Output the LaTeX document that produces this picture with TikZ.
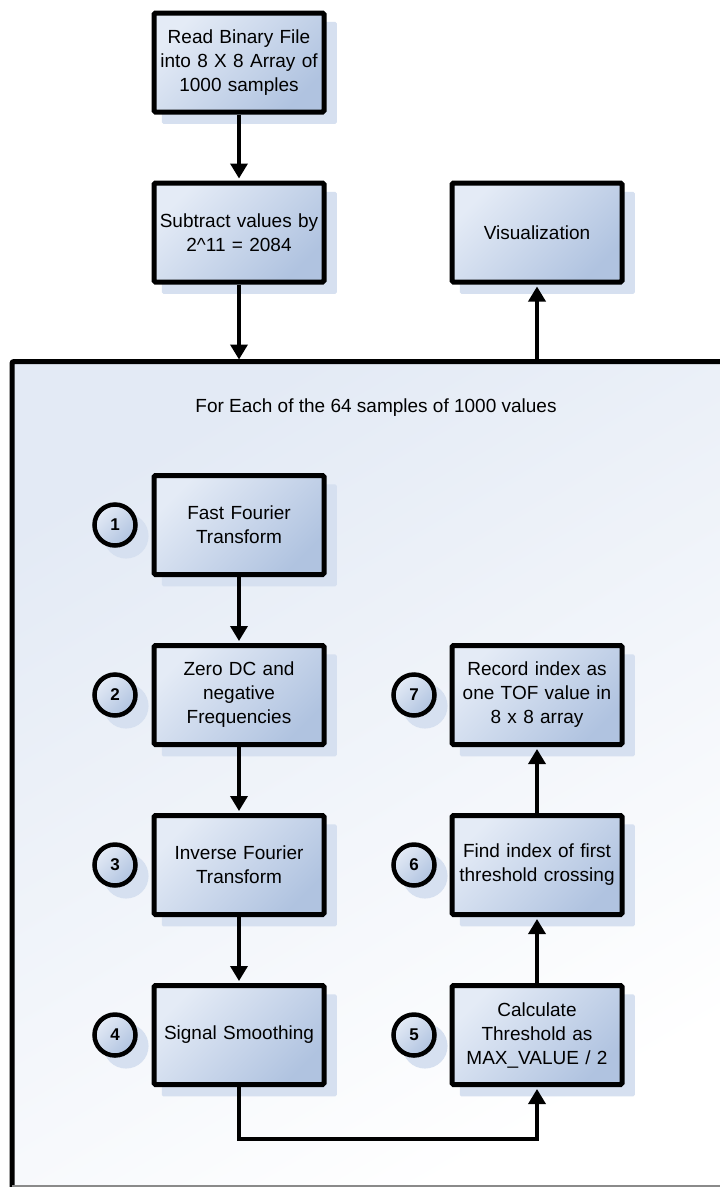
\documentclass[tikz,border=0pt]{standalone}
\usepackage{fontspec}
\setmainfont{Liberation Sans}
\usetikzlibrary{arrows.meta,shadows}

\definecolor{boxlight}{HTML}{E4EBF6}
\definecolor{boxdark}{HTML}{B0C3E0}
\definecolor{shadowblue}{HTML}{D6E0F0}
\definecolor{panelblue}{HTML}{E3EAF5}
\definecolor{edgegray}{HTML}{8A8A8A}

\begin{document}
\begin{tikzpicture}[x=1pt,y=-1pt,
  stepbox/.style={draw=black, line width=5pt, rounded corners=1.5pt,
    minimum width=170pt, minimum height=99pt, text width=168pt,
    align=center, inner sep=0pt,
    top color=boxlight, bottom color=boxdark, shading angle=45,
    font=\fontsize{19}{24}\selectfont,
    drop shadow={shadow xshift=10pt, shadow yshift=-10pt, shadow scale=1.03,
      fill=shadowblue, opacity=1}},
  badge/.style={circle, draw=black, line width=4.5pt, minimum size=41pt,
    inner sep=0pt, top color=boxlight, bottom color=boxdark, shading angle=45,
    font=\bfseries\fontsize{17}{17}\selectfont,
    drop shadow={shadow xshift=10pt, shadow yshift=-10pt, shadow scale=1.1,
      fill=shadowblue, opacity=1}},
  flow/.style={line width=3.5pt, -{Triangle[length=15pt,width=17pt]},
    shorten >=2pt},
]
\clip (0,0) rectangle (720,1187);
\fill[white] (0,0) rectangle (720,1187);

% loop panel
\fill[top color=panelblue, bottom color=white, shading angle=30]
  (12,361.5) rectangle (730,1186);
\draw[line width=5pt, rounded corners=2pt] (12,1195) -- (12,361.5) -- (730,361.5);
\draw[edgegray, line width=1.5pt] (12,1186) -- (720,1186);
\coordinate (panelin) at (239,361.5);
\coordinate (panelout) at (537,361.5);
\node[anchor=base, font=\fontsize{19}{24}\selectfont] (looptitle) at (376,412)
  {For Each of the 64 samples of 1000 values};

% preprocessing steps
\node[stepbox] (read) at (239,62.5) {Read Binary File\\into 8 X 8 Array of\\1000 samples};
\node[stepbox] (subtract) at (239,232.5) {Subtract values by\\2\^{}11 = 2084};
\node[stepbox] (vis) at (537,232.5) {Visualization};

% per-sample steps
\node[stepbox] (fft) at (239,525) {Fast Fourier\\Transform};
\node[stepbox] (zerodc) at (239,695) {Zero DC and\\negative\\Frequencies};
\node[stepbox] (ifft) at (239,865) {Inverse Fourier\\Transform};
\node[stepbox] (smooth) at (239,1035) {Signal Smoothing};
\node[stepbox] (thresh) at (537,1035) {Calculate\\Threshold as\\MAX\_VALUE / 2};
\node[stepbox] (cross) at (537,865) {Find index of first\\threshold crossing};
\node[stepbox] (record) at (537,695) {Record index as\\one TOF value in\\8 x 8 array};

% step numbers
\node[badge] (n1) at (115,525) {1};
\node[badge] (n2) at (115,695) {2};
\node[badge] (n3) at (115,865) {3};
\node[badge] (n4) at (115,1035) {4};
\node[badge] (n5) at (414,1035) {5};
\node[badge] (n6) at (414,865) {6};
\node[badge] (n7) at (414,695) {7};

% connectors
\draw[flow] (read) -- (subtract);
\draw[flow] (subtract) -- (panelin);
\draw[flow] (panelout) -- (vis);
\draw[flow] (fft) -- (zerodc);
\draw[flow] (zerodc) -- (ifft);
\draw[flow] (ifft) -- (smooth);
\draw[flow] (smooth.south) -- ++(0,52) -| (thresh.south);
\draw[flow] (thresh) -- (cross);
\draw[flow] (cross) -- (record);
\end{tikzpicture}
\end{document}
